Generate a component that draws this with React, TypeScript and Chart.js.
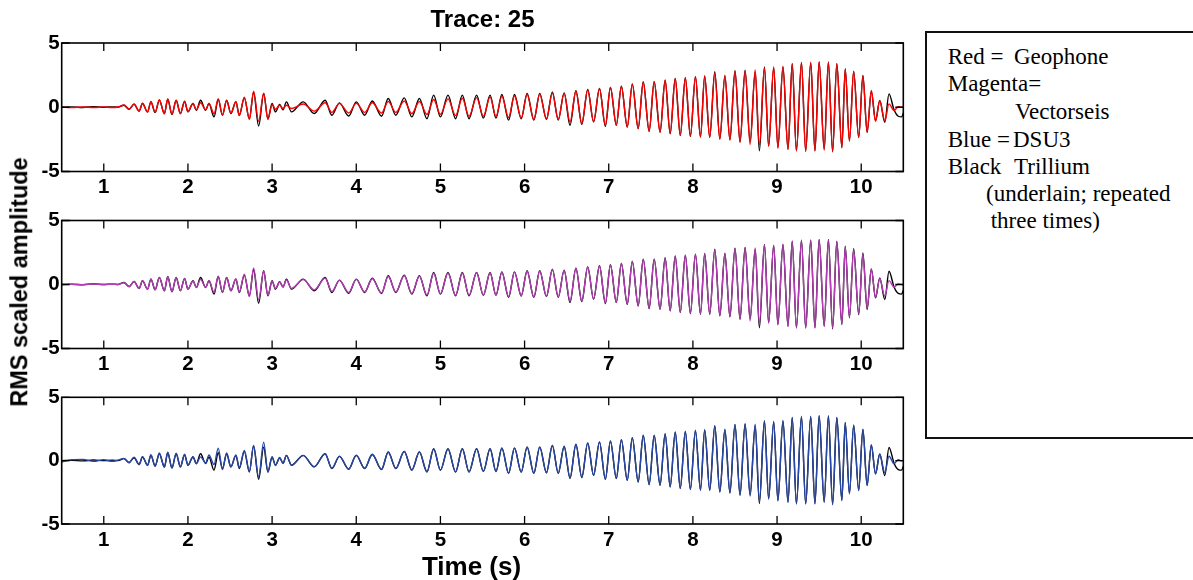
import React, { useEffect, useRef } from "react";
import { Chart, registerables } from "chart.js";

Chart.register(...registerables);

// Extrema (peak / trough) times of the traces, seconds
const TIME = [
  0.50, 0.62, 0.75, 0.88, 1.00, 1.10, 1.17,
  1.24, 1.30, 1.36, 1.42, 1.46, 1.52, 1.56, 1.61, 1.66, 1.72, 1.76, 1.81, 1.86, 1.91, 1.96, 2.00, 2.06, 2.10,
  2.15, 2.21, 2.25, 2.31, 2.36, 2.41, 2.46, 2.51, 2.57, 2.61, 2.67, 2.73, 2.78, 2.84, 2.90, 2.95, 3.00, 3.04, 3.09, 3.13, 3.17, 3.23,
  3.37, 3.50, 3.63, 3.71, 3.80, 3.91, 4.00, 4.10, 4.19, 4.30, 4.38, 4.47, 4.57, 4.66, 4.75, 4.84, 4.92, 5.00,
  5.09, 5.18, 5.26, 5.34, 5.43, 5.51, 5.59, 5.66, 5.73, 5.81, 5.88, 5.96, 6.03, 6.11, 6.18, 6.26, 6.33, 6.40, 6.47, 6.54, 6.61, 6.68, 6.75, 6.82, 6.89, 6.96,
  7.02, 7.09, 7.15, 7.22, 7.28, 7.35, 7.41, 7.48, 7.54, 7.61, 7.67, 7.73, 7.79, 7.85, 7.91, 7.97, 8.03, 8.09, 8.14, 8.20, 8.26, 8.32, 8.38, 8.44, 8.50, 8.56,
  8.62, 8.68, 8.74, 8.79, 8.85, 8.90, 8.96, 9.01, 9.07, 9.13, 9.18, 9.23, 9.29, 9.34, 9.40, 9.45, 9.50, 9.56, 9.61, 9.66, 9.71, 9.77, 9.81, 9.86, 9.91, 9.97, 10.02, 10.07, 10.12, 10.17, 10.22, 10.28, 10.33, 10.39, 10.44, 10.48, 10.50,
];

// Black: Trillium (repeated in all three panels)
const TRILLIUM = [
  0.00, 0.02, -0.02, 0.05, 0.00, 0.03, 0.00,
  0.16, -0.16, 0.23, -0.31, 0.29, -0.36, 0.42, -0.42, 0.55, -0.49, 0.62, -0.57, 0.55, -0.49, 0.47, -0.36, 0.29, -0.23,
  0.55, -0.23, 0.29, -0.75, 0.62, -0.62, 0.55, -0.49, 0.42, -0.62, 0.73, -0.89, 1.15, -1.46, 1.07, -0.89, 0.29, -0.36, 0.21, -0.20, 0.42, -0.36,
  0.42, -0.49, 0.55, -0.62, 0.34, -0.68, 0.42, -0.62, 0.49, -0.70, 0.68, -0.62, 0.73, -0.75, 0.68, -0.89, 0.94, -0.75,
  0.94, -0.89, 0.94, -0.89, 0.94, -0.85, 0.94, -0.85, 0.99, -1.00, 0.99, -0.90, 1.07, -1.00, 1.07, -0.95, 1.20, -1.00, 1.12, -1.40, 1.28, -1.33, 1.38, -1.15, 1.46, -1.48,
  1.54, -1.40, 1.64, -1.54, 1.80, -1.67, 1.98, -1.88, 1.98, -1.93, 2.10, -2.06, 2.24, -2.19, 2.29, -2.27, 2.37, -2.32, 2.42, -2.32, 2.76, -2.45, 2.42, -2.53, 2.84, -2.71,
  2.89, -2.70, 2.75, -3.39, 3.13, -2.99, 3.05, -3.13, 3.13, -3.26, 3.39, -3.39, 3.46, -3.39, 3.46, -3.39, 3.52, -3.26, 3.52, -3.46, 3.39, -3.13, 2.99, -2.60, 2.79, -2.34, 2.47, -1.95, 1.22, -1.04, 0.52, -1.17, 1.04, -0.20, -0.70, -0.75, -0.45,
];

// Red: Geophone
const GEOPHONE = [
  0.00, -0.03, 0.02, -0.02, 0.03, -0.02, 0.02,
  0.18, -0.14, 0.25, -0.28, 0.31, -0.38, 0.45, -0.40, 0.58, -0.52, 0.65, -0.55, 0.52, -0.50, 0.45, -0.34, 0.30, -0.20,
  0.35, -0.20, 0.30, -0.50, 0.65, -0.60, 0.52, -0.45, 0.45, -0.65, 0.78, -0.95, 1.25, -1.10, 1.10, -0.95, 0.20, -0.15, 0.15, -0.10, 0.15, -0.10,
  0.25, -0.30, 0.35, -0.40, 0.30, -0.45, 0.30, -0.40, 0.35, -0.45, 0.45, -0.40, 0.49, -0.50, 0.45, -0.55, 0.60, -0.55,
  0.65, -0.65, 0.70, -0.70, 0.75, -0.70, 0.80, -0.72, 0.86, -0.80, 0.90, -0.85, 1.00, -0.95, 1.02, -0.90, 1.10, -0.95, 1.10, -1.15, 1.25, -1.25, 1.35, -1.10, 1.45, -1.40,
  1.55, -1.38, 1.62, -1.52, 1.82, -1.65, 1.95, -1.85, 2.00, -1.95, 2.12, -2.05, 2.25, -2.20, 2.30, -2.25, 2.40, -2.30, 2.45, -2.35, 2.65, -2.50, 2.50, -2.55, 2.80, -2.70,
  2.80, -2.90, 2.90, -2.95, 3.05, -3.05, 3.15, -3.20, 3.20, -3.30, 3.40, -3.40, 3.50, -3.45, 3.50, -3.40, 3.55, -3.35, 3.50, -3.45, 3.40, -3.15, 3.00, -2.65, 2.80, -2.35, 2.45, -1.95, 1.30, -1.10, 0.50, -1.04, 0.26, -0.26, 0.05, 0.00, 0.00,
];

// Magenta: Vectorseis
const VECTORSEIS = [
  0.00, 0.01, -0.01, 0.03, 0.00, 0.02, 0.00,
  0.15, -0.17, 0.24, -0.30, 0.30, -0.37, 0.44, -0.40, 0.56, -0.50, 0.60, -0.55, 0.53, -0.47, 0.45, -0.35, 0.28, -0.22,
  0.40, -0.22, 0.30, -0.60, 0.65, -0.60, 0.55, -0.47, 0.45, -0.60, 0.80, -0.95, 1.30, -1.20, 1.05, -0.85, 0.25, -0.30, 0.20, -0.18, 0.35, -0.30,
  0.38, -0.42, 0.50, -0.55, 0.32, -0.62, 0.40, -0.58, 0.46, -0.65, 0.62, -0.58, 0.68, -0.70, 0.64, -0.82, 0.88, -0.72,
  0.90, -0.85, 0.90, -0.85, 0.92, -0.82, 0.92, -0.82, 0.96, -0.95, 0.97, -0.88, 1.04, -0.97, 1.05, -0.92, 1.16, -0.98, 1.10, -1.30, 1.26, -1.30, 1.36, -1.13, 1.44, -1.45,
  1.52, -1.40, 1.63, -1.52, 1.80, -1.66, 1.96, -1.86, 1.98, -1.92, 2.08, -2.04, 2.22, -2.18, 2.28, -2.25, 2.36, -2.30, 2.40, -2.30, 2.70, -2.44, 2.45, -2.52, 2.82, -2.70,
  2.86, -2.85, 2.85, -3.05, 3.10, -3.00, 3.08, -3.15, 3.15, -3.28, 3.40, -3.38, 3.47, -3.40, 3.48, -3.38, 3.50, -3.28, 3.48, -3.40, 3.35, -3.10, 2.95, -2.55, 2.70, -2.25, 2.35, -1.85, 1.20, -1.00, 0.45, -0.90, 0.30, -0.20, 0.05, 0.00, 0.00,
];

// Blue: DSU3
const DSU3 = [
  -0.12, 0.08, 0.10, -0.06, 0.08, -0.05, 0.05,
  0.18, -0.15, 0.28, -0.30, 0.32, -0.38, 0.46, -0.45, 0.60, -0.52, 0.66, -0.58, 0.58, -0.50, 0.50, -0.38, 0.32, -0.25,
  0.30, -0.18, 0.45, -0.30, 0.99, -0.70, 0.60, -0.50, 0.45, -0.55, 0.80, -0.85, 1.20, -1.30, 1.46, -0.90, 0.30, -0.38, 0.25, -0.22, 0.40, -0.35,
  0.40, -0.48, 0.55, -0.60, 0.36, -0.66, 0.44, -0.60, 0.50, -0.68, 0.66, -0.62, 0.72, -0.74, 0.68, -0.86, 0.92, -0.76,
  0.92, -0.88, 0.94, -0.88, 0.95, -0.85, 0.95, -0.86, 1.00, -0.98, 1.00, -0.90, 1.08, -1.00, 1.08, -0.96, 1.22, -1.00, 1.14, -1.35, 1.30, -1.32, 1.40, -1.16, 1.48, -1.46,
  1.56, -1.42, 1.66, -1.55, 1.82, -1.68, 2.00, -1.90, 2.00, -1.95, 2.12, -2.08, 2.26, -2.20, 2.32, -2.28, 2.40, -2.34, 2.45, -2.35, 2.72, -2.48, 2.48, -2.56, 2.86, -2.74,
  2.90, -2.80, 2.88, -3.20, 3.15, -3.05, 3.10, -3.18, 3.18, -3.30, 3.42, -3.42, 3.50, -3.42, 3.50, -3.42, 3.56, -3.30, 3.55, -3.48, 3.42, -3.15, 3.02, -2.62, 2.80, -2.36, 2.48, -1.95, 1.25, -1.05, 0.50, -0.95, 0.35, -0.25, 0.08, -0.02, 0.00,
];

const X_TICKS = [1, 2, 3, 4, 5, 6, 7, 8, 9, 10];
const Y_TICKS = [-5, 0, 5];
const X_RANGE = [0.5, 10.5];
const Y_RANGE = [-5, 5];

const TITLE = "Trace: 25";
const X_LABEL = "Time (s)";
const Y_LABEL = "RMS scaled amplitude";

const SANS = '"Liberation Sans", Arial, Helvetica, sans-serif';
const SERIF = '"Liberation Serif", "Times New Roman", serif';

const toPoints = (vals: number[]) => TIME.map((t, i) => ({ x: t, y: vals[i] ?? 0 }));

const boxPlugin = {
  id: "matlabBox",
  afterDatasetsDraw(chart: any) {
    const { ctx, chartArea } = chart;
    const { left, right, top, bottom } = chartArea;
    const xs = chart.scales.x;
    const ys = chart.scales.y;
    const tl = 8;
    ctx.save();
    ctx.strokeStyle = "#000";
    ctx.lineWidth = 1.3;
    ctx.beginPath();
    X_TICKS.forEach((v) => {
      const px = xs.getPixelForValue(v);
      ctx.moveTo(px, top);
      ctx.lineTo(px, top + tl);
      ctx.moveTo(px, bottom);
      ctx.lineTo(px, bottom - tl);
    });
    Y_TICKS.forEach((v) => {
      const py = ys.getPixelForValue(v);
      ctx.moveTo(left, py);
      ctx.lineTo(left + tl, py);
      ctx.moveTo(right, py);
      ctx.lineTo(right - tl, py);
    });
    ctx.stroke();
    ctx.lineWidth = 1.6;
    ctx.strokeRect(left, top, right - left, bottom - top);
    ctx.restore();
  },
};

type PanelProps = {
  values: number[];
  color: string;
  top: number;
  height: number;
  padTop: number;
  xHeight: number;
  showTitle?: boolean;
};

function Panel({ values, color, top, height, padTop, xHeight, showTitle }: PanelProps) {
  const ref = useRef<HTMLCanvasElement | null>(null);
  useEffect(() => {
    if (!ref.current) return;
    const tickFont = { family: SANS, size: 20.5, weight: "bold" as const };
    const chart = new Chart(ref.current, {
      type: "line",
      data: {
        datasets: [
          {
            data: toPoints(values),
            borderColor: color,
            borderWidth: 1.4,
            pointRadius: 0,
            cubicInterpolationMode: "monotone",
            order: 0,
          },
          {
            data: toPoints(TRILLIUM),
            borderColor: "#000000",
            borderWidth: 1.4,
            pointRadius: 0,
            cubicInterpolationMode: "monotone",
            order: 1,
          },
        ],
      },
      options: {
        responsive: false,
        animation: false,
        events: [],
        layout: { padding: { top: showTitle ? 0 : padTop, right: 1.7, left: 0, bottom: 0 } },
        plugins: {
          legend: { display: false },
          tooltip: { enabled: false },
          title: {
            display: !!showTitle,
            text: TITLE,
            fullSize: false,
            color: "#000",
            font: { family: SANS, size: 24, weight: "bold" },
            padding: { top: 6, bottom: 8.2 },
          },
        },
        scales: {
          x: {
            type: "linear",
            min: X_RANGE[0],
            max: X_RANGE[1],
            grid: { display: false, drawTicks: false },
            border: { display: false },
            ticks: {
              color: "#000",
              font: tickFont,
              padding: 4,
              autoSkip: false,
              maxRotation: 0,
              callback: (v: any) => String(v),
            },
            afterBuildTicks: (s: any) => {
              s.ticks = X_TICKS.map((v) => ({ value: v }));
            },
            afterFit: (s: any) => {
              s.height = xHeight;
            },
          },
          y: {
            type: "linear",
            min: Y_RANGE[0],
            max: Y_RANGE[1],
            grid: { display: false, drawTicks: false },
            border: { display: false },
            ticks: {
              color: "#000",
              font: tickFont,
              padding: 2,
              callback: (v: any) => String(v),
            },
            afterBuildTicks: (s: any) => {
              s.ticks = Y_TICKS.map((v) => ({ value: v }));
            },
            afterFit: (s: any) => {
              s.width = 61.7;
            },
          },
        },
      },
      plugins: [boxPlugin],
    });
    return () => chart.destroy();
  }, []);
  return (
    <canvas
      ref={ref}
      width={905}
      height={height}
      style={{ position: "absolute", left: 0, top, width: 905, height }}
    />
  );
}

const legendLine = (text: string, left: number, cy: number) => (
  <span
    key={text + left}
    style={{
      position: "absolute",
      left,
      top: cy - 11.6,
      fontFamily: SERIF,
      fontSize: 23,
      lineHeight: "23px",
      whiteSpace: "nowrap",
      color: "#000",
    }}
  >
    {text}
  </span>
);

const centered = (text: string, cx: number, cy: number, size: number, rotate = false) => (
  <div
    style={{
      position: "absolute",
      left: cx,
      top: cy,
      transform: rotate ? "translate(-50%, -50%) rotate(-90deg)" : "translate(-50%, -50%)",
      fontFamily: SANS,
      fontWeight: "bold",
      fontSize: size,
      lineHeight: 1,
      whiteSpace: "nowrap",
      color: "#000",
    }}
  >
    {text}
  </div>
);

export default function App() {
  return (
    <div
      style={{
        position: "absolute",
        left: 0,
        top: 0,
        width: 1193,
        height: 580,
        overflow: "hidden",
        background: "#fff",
      }}
    >
      <Panel values={GEOPHONE} color="#ff0000" top={0} height={200} padTop={0} xHeight={28.5} showTitle />
      <Panel values={VECTORSEIS} color="#b43cb4" top={200} height={180} padTop={20.5} xHeight={31.5} />
      <Panel values={DSU3} color="#2848a8" top={380} height={200} padTop={17.3} xHeight={56} />
      {centered(Y_LABEL, 20, 282, 23.5, true)}
      {centered(X_LABEL, 471.5, 566, 26)}
      <div
        style={{
          position: "absolute",
          left: 925,
          top: 31,
          width: 300,
          height: 408,
          border: "2px solid #111",
          boxSizing: "border-box",
        }}
      />
      {legendLine("Red =", 947.7, 56.7)}
      {legendLine("Geophone", 1014, 56.7)}
      {legendLine("Magenta=", 947.7, 83.5)}
      {legendLine("Vectorseis", 1015, 111.7)}
      {legendLine("Blue =", 947.7, 139.3)}
      {legendLine("DSU3", 1013, 139.3)}
      {legendLine("Black", 947.7, 166.7)}
      {legendLine("Trillium", 1014, 166.7)}
      {legendLine("(underlain; repeated", 986, 194)}
      {legendLine("three times)", 990.7, 220.5)}
    </div>
  );
}
